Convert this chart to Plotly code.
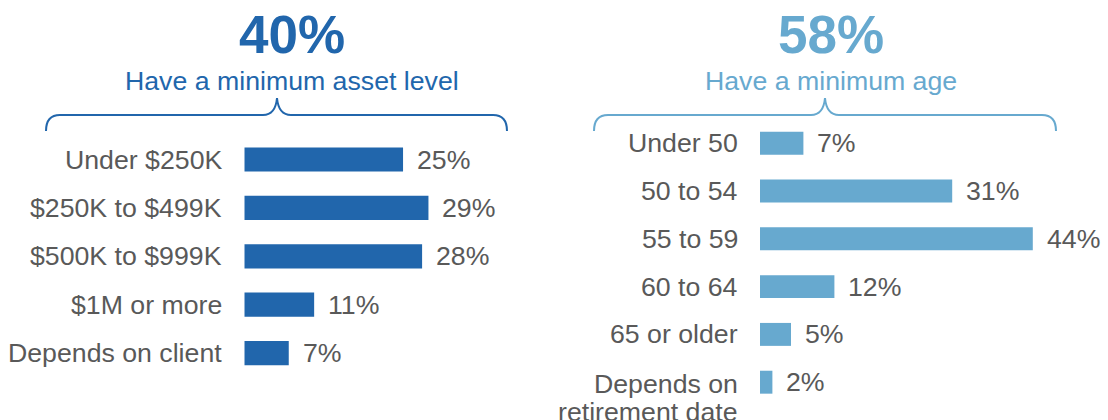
import plotly.graph_objects as go

# ---------------- data ----------------
asset_categories = ["Under $250K", "$250K to $499K", "$500K to $999K", "$1M or more", "Depends on client"]
asset_values = [25, 29, 28, 11, 7]
asset_total = 40
asset_subtitle = "Have a minimum asset level"

age_categories = ["Under 50", "50 to 54", "55 to 59", "60 to 64", "65 or older", "Depends on<br>retirement date"]
age_values = [7, 31, 44, 12, 5, 2]
age_total = 58
age_subtitle = "Have a minimum age"

# ---------------- styling ----------------
W, H = 1108, 420
DARK = "#2166AC"
LIGHT = "#67A9CF"
GRAY = "#595959"
FONT = "Arial, Liberation Sans, sans-serif"
FS = 26.7


def px(x):
    return x / W


def py(y):
    return 1 - y / H


fig = go.Figure()

fig.add_trace(go.Bar(x=asset_values, y=asset_categories, orientation="h",
                     marker=dict(color=DARK, line=dict(width=0)), width=0.5,
                     xaxis="x", yaxis="y", hoverinfo="skip"))
fig.add_trace(go.Bar(x=age_values, y=age_categories, orientation="h",
                     marker=dict(color=LIGHT, line=dict(width=0)), width=0.48,
                     xaxis="x2", yaxis="y2", hoverinfo="skip"))

hidden = dict(showgrid=False, zeroline=False, showticklabels=False, showline=False, ticks="")

fig.update_layout(
    width=W, height=H,
    margin=dict(l=0, r=0, t=0, b=0),
    paper_bgcolor="white", plot_bgcolor="white",
    showlegend=False,
    font=dict(family=FONT, color=GRAY, size=FS),
    xaxis=dict(domain=[px(244.3), px(244.3 + 6.35 * 40)], range=[0, 40], anchor="y", **hidden),
    yaxis=dict(domain=[py(377.3), py(135.3)], type="category",
               categoryorder="array", categoryarray=asset_categories,
               range=[len(asset_categories) - 0.5, -0.5], anchor="x", **hidden),
    xaxis2=dict(domain=[px(760), px(760 + 6.2 * 50)], range=[0, 50], anchor="y2", **hidden),
    yaxis2=dict(domain=[py(406.1), py(119.3)], type="category",
                categoryorder="array", categoryarray=age_categories,
                range=[len(age_categories) - 0.5, -0.5], anchor="x2", **hidden),
)

annotations = []


def add_labels(cats, vals, xref, yref):
    for c, v in zip(cats, vals):
        lines = c.split("<br>")
        for i, ln in enumerate(lines):
            annotations.append(dict(x=0, y=c, xref=xref, yref=yref, text=ln, showarrow=False,
                                    xanchor="right", yanchor="middle", xshift=-20,
                                    yshift=(-2 - 28 * i) if len(lines) > 1 else 0,
                                    font=dict(size=FS, color=GRAY, family=FONT)))
        annotations.append(dict(x=v, y=c, xref=xref, yref=yref, text=f"{v}%", showarrow=False,
                                xanchor="left", yanchor="middle", xshift=12,
                                font=dict(size=FS, color=GRAY, family=FONT)))


add_labels(asset_categories, asset_values, "x", "y")
add_labels(age_categories, age_values, "x2", "y2")

# headline numbers and subtitles
for cx, total, sub, col in [(292, asset_total, asset_subtitle, DARK), (831, age_total, age_subtitle, LIGHT)]:
    annotations.append(dict(x=px(cx), y=py(34), xref="paper", yref="paper", text=f"<b>{total}%</b>",
                            showarrow=False, xanchor="center", yanchor="middle",
                            font=dict(size=53, color=col, family=FONT)))
    annotations.append(dict(x=px(cx), y=py(81), xref="paper", yref="paper", text=sub,
                            showarrow=False, xanchor="center", yanchor="middle",
                            font=dict(size=FS, color=col, family=FONT)))

fig.update_layout(annotations=annotations)


def brace(x0, x1, xt, color, ytop=98, yline=115, yend=131, r=14):
    def P(x, y):
        return f"{px(x):.5f},{py(y):.5f}"
    path = (f"M {P(x0, yend)} Q {P(x0, yline)} {P(x0 + r, yline)} "
            f"L {P(xt - 14, yline)} C {P(xt - 5, yline)} {P(xt - 1, yline - 6)} {P(xt, ytop)} "
            f"C {P(xt + 1, yline - 6)} {P(xt + 5, yline)} {P(xt + 14, yline)} "
            f"L {P(x1 - r, yline)} Q {P(x1, yline)} {P(x1, yend)}")
    return dict(type="path", xref="paper", yref="paper", path=path,
                line=dict(color=color, width=2))


fig.update_layout(shapes=[brace(46, 507, 277, DARK), brace(594, 1056, 825, LIGHT)])

fig.write_html("out.html", config={"displayModeBar": False},
               post_script="document.body.style.margin='0';")
